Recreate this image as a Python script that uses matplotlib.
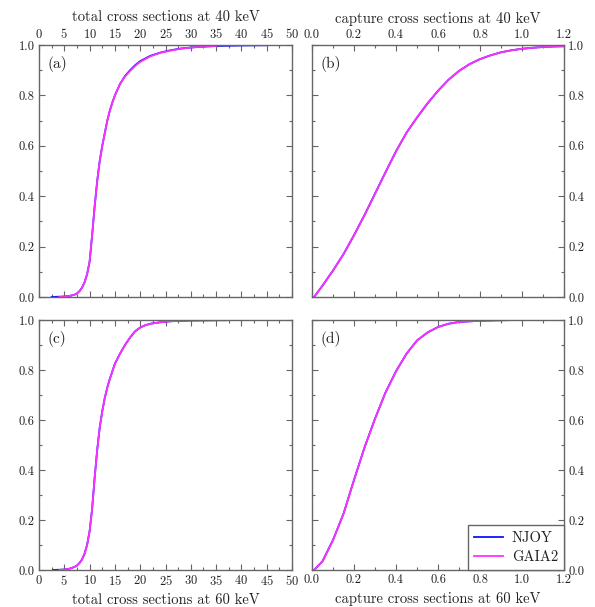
import matplotlib
matplotlib.use("Agg")
import matplotlib.pyplot as plt
from matplotlib.ticker import MultipleLocator, FormatStrFormatter

plt.rcParams['font.family'] = 'serif'
plt.rcParams['font.serif'] = ['cmr10', 'DejaVu Serif']
plt.rcParams['mathtext.fontset'] = 'cm'
plt.rcParams['axes.formatter.use_mathtext'] = True

# ---- data ----
# (a) total cross sections at 40 keV
a_njoy_x = [2.5, 5, 6, 7, 7.5, 8, 8.5, 9, 9.5, 10, 10.5, 11, 11.5, 12, 12.5, 13, 13.5, 14, 14.5, 15, 16, 17, 18, 19, 20, 22, 24, 26, 28, 30, 32, 35, 40, 45]
a_njoy_y = [0.0, 0.002, 0.004, 0.009, 0.014, 0.023, 0.037, 0.058, 0.09, 0.14, 0.245, 0.36, 0.46, 0.54, 0.60, 0.65, 0.70, 0.74, 0.772, 0.80, 0.845, 0.877, 0.90, 0.92, 0.936, 0.957, 0.97, 0.979, 0.986, 0.99, 0.993, 0.996, 0.998, 0.999]
a_gaia_x = [4, 5, 6, 7, 7.5, 8, 8.5, 9, 9.5, 10, 10.5, 11, 11.5, 12, 12.5, 13, 13.5, 14, 14.5, 15, 16, 17, 18, 19, 20, 22, 24, 26, 28, 30, 32, 35]
a_gaia_y = [0.0, 0.002, 0.004, 0.009, 0.014, 0.023, 0.037, 0.058, 0.09, 0.14, 0.245, 0.36, 0.46, 0.54, 0.60, 0.65, 0.70, 0.74, 0.772, 0.80, 0.845, 0.875, 0.897, 0.917, 0.933, 0.955, 0.969, 0.978, 0.985, 0.99, 0.993, 0.996]

# (b) capture cross sections at 40 keV
b_njoy_x = [0.01, 0.05, 0.1, 0.15, 0.2, 0.25, 0.3, 0.35, 0.4, 0.45, 0.5, 0.55, 0.6, 0.65, 0.7, 0.75, 0.8, 0.85, 0.9, 0.95, 1.0, 1.05, 1.1, 1.15, 1.2]
b_njoy_y = [0.0, 0.045, 0.105, 0.17, 0.245, 0.325, 0.41, 0.495, 0.578, 0.652, 0.712, 0.768, 0.818, 0.862, 0.897, 0.924, 0.944, 0.959, 0.971, 0.979, 0.985, 0.989, 0.992, 0.994, 0.995]
b_gaia_x = b_njoy_x
b_gaia_y = [0.0, 0.045, 0.105, 0.17, 0.245, 0.325, 0.41, 0.495, 0.578, 0.652, 0.713, 0.769, 0.819, 0.862, 0.897, 0.924, 0.944, 0.959, 0.971, 0.979, 0.985, 0.989, 0.992, 0.994, 0.995]

# (c) total cross sections at 60 keV
c_njoy_x = [2.8, 5, 6, 7, 7.5, 8, 8.5, 9, 9.5, 10, 10.5, 11, 11.5, 12, 12.5, 13, 13.5, 14, 15, 16, 17, 18, 19, 20, 21, 22, 24, 26, 30, 35, 37]
c_njoy_y = [0.0, 0.002, 0.005, 0.012, 0.018, 0.028, 0.042, 0.065, 0.10, 0.155, 0.245, 0.37, 0.48, 0.57, 0.635, 0.688, 0.73, 0.765, 0.825, 0.865, 0.90, 0.93, 0.955, 0.97, 0.979, 0.985, 0.991, 0.995, 0.998, 0.999, 0.999]
c_gaia_x = [4, 5, 6, 7, 7.5, 8, 8.5, 9, 9.5, 10, 10.5, 11, 11.5, 12, 12.5, 13, 13.5, 14, 15, 16, 17, 18, 19, 20, 21, 22, 24, 26, 30, 35]
c_gaia_y = [0.0, 0.002, 0.005, 0.012, 0.018, 0.028, 0.042, 0.065, 0.10, 0.155, 0.245, 0.37, 0.48, 0.57, 0.635, 0.688, 0.73, 0.765, 0.825, 0.865, 0.90, 0.93, 0.955, 0.97, 0.979, 0.985, 0.991, 0.995, 0.998, 0.999]

# (d) capture cross sections at 60 keV
d_njoy_x = [0.01, 0.05, 0.1, 0.15, 0.2, 0.25, 0.3, 0.35, 0.4, 0.45, 0.5, 0.55, 0.6, 0.65, 0.7, 0.8, 0.9, 0.975, 1.12]
d_njoy_y = [0.0, 0.035, 0.12, 0.225, 0.36, 0.49, 0.605, 0.71, 0.795, 0.865, 0.918, 0.95, 0.972, 0.985, 0.992, 0.997, 0.999, 1.0, 1.0]
d_gaia_x = [0.01, 0.05, 0.1, 0.15, 0.2, 0.25, 0.3, 0.35, 0.4, 0.45, 0.5, 0.55, 0.6, 0.65, 0.7, 0.8, 0.9, 0.975]
d_gaia_y = [0.0, 0.035, 0.12, 0.225, 0.36, 0.49, 0.605, 0.71, 0.795, 0.865, 0.918, 0.95, 0.972, 0.985, 0.992, 0.997, 0.999, 1.0]

titles = ["total cross sections at 40 keV", "capture cross sections at 40 keV",
          "total cross sections at 60 keV", "capture cross sections at 60 keV"]
panel_labels = ["(a)", "(b)", "(c)", "(d)"]
series_names = ["NJOY", "GAIA2"]

NJOY_C = '#1010ff'
GAIA_C = '#ff30ff'
SPINE_C = '#666666'
TXT_C = '#222222'

W, H = 595, 607
fig = plt.figure(figsize=(W / 100, H / 100), dpi=100)

def frac(l, t, r, b):
    return [l / W, 1 - b / H, (r - l) / W, (b - t) / H]

ax_a = fig.add_axes(frac(39, 45, 292, 297))
ax_b = fig.add_axes(frac(312, 45, 564, 297))
ax_c = fig.add_axes(frac(39, 320, 292, 570))
ax_d = fig.add_axes(frac(312, 320, 564, 570))

data = [
    (ax_a, a_njoy_x, a_njoy_y, a_gaia_x, a_gaia_y, (0, 50), 5, 2.5),
    (ax_b, b_njoy_x, b_njoy_y, b_gaia_x, b_gaia_y, (0, 1.2), 0.2, 0.1),
    (ax_c, c_njoy_x, c_njoy_y, c_gaia_x, c_gaia_y, (0, 50), 5, 2.5),
    (ax_d, d_njoy_x, d_njoy_y, d_gaia_x, d_gaia_y, (0, 1.2), 0.2, 0.1),
]

for i, (ax, nx, ny, gx, gy, xlim, maj, mnr) in enumerate(data):
    ax.plot(nx, ny, color=NJOY_C, lw=1.3, label=series_names[0])
    ax.plot(gx, gy, color=GAIA_C, lw=1.3, label=series_names[1])
    ax.set_xlim(*xlim)
    ax.set_ylim(0, 1.0)
    ax.xaxis.set_major_locator(MultipleLocator(maj))
    ax.xaxis.set_minor_locator(MultipleLocator(mnr))
    ax.yaxis.set_major_locator(MultipleLocator(0.2))
    ax.yaxis.set_minor_locator(MultipleLocator(0.1))
    if xlim[1] < 2:
        ax.xaxis.set_major_formatter(FormatStrFormatter('%.1f'))
    ax.yaxis.set_major_formatter(FormatStrFormatter('%.1f'))
    for s in ax.spines.values():
        s.set_color(SPINE_C)
        s.set_linewidth(1.0)
    top = i < 2
    left = i % 2 == 0
    ax.tick_params(which='both', direction='in', top=True, bottom=True, left=True, right=True,
                   color=SPINE_C, labelcolor=TXT_C, labelsize=9,
                   labeltop=top, labelbottom=not top, labelleft=left, labelright=not left, pad=3)
    ax.tick_params(which='major', length=4, width=0.8)
    ax.tick_params(which='minor', length=2.5, width=0.8)
    if top:
        ax.xaxis.set_label_position('top')
    ax.set_xlabel(titles[i], fontsize=10.5, color=TXT_C, labelpad=4)
    ax.text(0.035, 0.955, panel_labels[i], transform=ax.transAxes, ha='left', va='top',
            fontsize=11, color=TXT_C)

leg = ax_d.legend(loc='lower right', borderaxespad=0, frameon=True, fancybox=False,
                  edgecolor=SPINE_C, fontsize=10.5, handlelength=2.0, labelcolor=TXT_C,
                  borderpad=0.4, handletextpad=0.6, labelspacing=0.4)
leg.get_frame().set_linewidth(1.0)
leg.get_frame().set_alpha(1)

fig.savefig("out.png", dpi=100)
